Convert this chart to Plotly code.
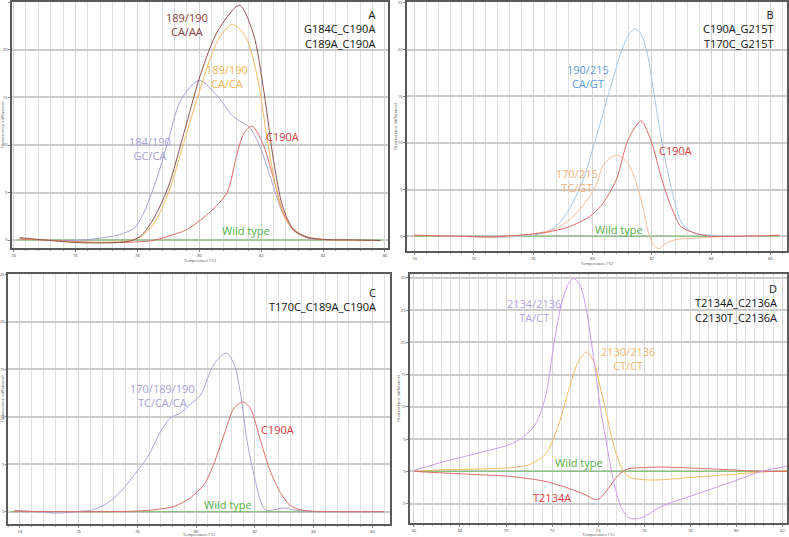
import plotly.graph_objects as go

# ---------------- DATA ----------------
# Panel A
a_wt_x = [74.1, 85.9]
a_wt_y = [0.0, 0.0]
a_c190a_x = [74.2, 75.0, 76.8, 78.4, 79.0, 79.6, 80.3, 80.9, 81.2, 81.44, 81.7, 82.05, 82.4, 82.7, 83.05, 83.5, 84.0, 85.85]
a_c190a_y = [0.1, 0.0, -0.25, -0.1, 0.4, 1.1, 2.8, 5.0, 8.8, 11.2, 12.0, 10.2, 6.5, 3.0, 1.0, 0.25, 0.05, -0.05]
a_gcca_x = [74.2, 75.0, 75.8, 76.3, 76.8, 77.4, 77.9, 78.2, 78.65, 79.0, 79.4, 80.0, 80.6, 81.1, 81.65, 82.0, 82.4, 82.7, 83.05, 83.5, 84.0, 85.85]
a_gcca_y = [0.15, 0.0, -0.05, 0.03, 0.2, 0.55, 1.25, 2.8, 6.7, 10.5, 14.7, 16.8, 15.1, 13.0, 11.75, 9.5, 5.6, 2.8, 1.1, 0.2, 0.03, -0.05]
a_caaa_x = [74.2, 75.0, 76.3, 77.7, 78.1, 78.5, 79.0, 79.5, 80.05, 80.6, 81.3, 81.75, 82.1, 82.4, 82.7, 83.05, 83.5, 84.1, 85.0, 85.85]
a_caaa_y = [0.25, 0.0, -0.3, -0.15, 0.4, 2.1, 5.6, 11.2, 17.5, 22.0, 24.7, 21.7, 15.4, 8.4, 3.5, 1.1, 0.3, 0.05, 0.0, -0.05]
a_caca_x = [74.2, 75.0, 76.3, 77.7, 78.1, 78.55, 79.0, 79.5, 80.05, 80.6, 81.06, 81.5, 81.9, 82.2, 82.5, 82.8, 83.3, 84.0, 85.85]
a_caca_y = [0.2, 0.0, -0.25, -0.1, 0.3, 1.8, 4.9, 10.2, 16.1, 21.0, 22.7, 21.4, 16.8, 10.5, 5.3, 2.1, 0.55, 0.05, -0.05]

# Panel B
b_wt_x = [74.0, 86.3]
b_wt_y = [0.0, 0.0]
b_cagt_x = [74.0, 75.5, 76.7, 77.85, 78.3, 78.75, 79.2, 79.65, 80.1, 80.55, 81.0, 81.25, 81.45, 81.65, 81.85, 82.1, 82.35, 82.7, 83.0, 83.35, 84.0, 85.0, 86.3]
b_cagt_y = [0.1, 0.0, -0.15, 0.1, 0.3, 1.0, 2.8, 5.7, 10.3, 15.3, 20.0, 21.7, 22.2, 21.6, 19.6, 14.8, 10.0, 4.6, 1.5, 0.45, 0.1, 0.0, 0.1]
b_c190a_x = [74.0, 75.5, 76.7, 77.85, 78.5, 79.2, 79.9, 80.3, 80.8, 81.2, 81.64, 82.0, 82.35, 82.7, 83.0, 83.5, 84.0, 85.0, 86.3]
b_c190a_y = [0.1, 0.0, -0.05, 0.2, 0.45, 1.0, 2.1, 3.3, 6.0, 10.3, 12.36, 10.0, 6.0, 2.8, 1.0, 0.3, 0.0, 0.0, 0.1]
b_tcgt_x = [74.0, 75.5, 76.7, 78.1, 78.75, 79.2, 79.65, 80.1, 80.4, 80.83, 81.2, 81.45, 81.7, 81.9, 82.07, 82.24, 82.46, 82.8, 83.25, 83.7, 84.6, 86.3]
b_tcgt_y = [0.1, 0.0, -0.1, 0.3, 0.8, 1.7, 3.15, 5.3, 7.8, 8.7, 7.8, 6.0, 3.15, 0.3, -0.97, -1.33, -0.8, -0.36, -0.25, -0.15, 0.0, 0.1]

# Panel C
c_wt_x = [73.7, 86.4]
c_wt_y = [0.0, 0.0]
c_tccaca_x = [73.8, 74.5, 75.28, 76.07, 76.5, 76.98, 77.43, 77.9, 78.34, 78.8, 79.13, 79.47, 79.8, 80.15, 80.6, 81.03, 81.3, 81.5, 81.74, 81.97, 82.2, 82.36, 82.65, 82.99, 83.3, 83.8, 85.0, 86.4]
c_tccaca_y = [0.15, 0.0, -0.15, 0.03, 0.2, 0.9, 2.1, 3.9, 5.7, 8.5, 9.9, 10.4, 11.3, 12.3, 15.5, 16.74, 15.5, 12.7, 7.4, 3.9, 1.1, 0.14, 0.2, 0.39, 0.2, 0.03, 0.0, 0.0]
c_c190a_x = [73.8, 75.5, 77.66, 78.57, 79.25, 79.8, 80.27, 80.6, 80.95, 81.29, 81.59, 81.85, 82.2, 82.53, 82.87, 83.2, 83.55, 84.1, 85.0, 86.4]
c_c190a_y = [0.05, 0.0, 0.03, 0.2, 0.56, 1.45, 2.85, 5.0, 8.1, 10.9, 11.57, 10.9, 7.4, 4.25, 2.0, 0.67, 0.2, 0.03, 0.0, 0.0]

# Panel D
d_wt_x = [66.0, 82.2]
d_wt_y = [0.0, 0.0]
d_tact_x = [66.0, 67.35, 68.8, 70.1, 70.7, 71.26, 71.7, 72.1, 72.4, 72.7, 72.93, 73.2, 73.5, 73.8, 74.1, 74.4, 74.67, 74.96, 75.25, 75.47, 75.9, 76.77, 78.2, 79.67, 81.1, 82.2]
d_tact_y = [0.15, 1.55, 2.85, 4.1, 5.2, 7.2, 11.4, 20.2, 25.9, 29.0, 29.9, 29.0, 24.8, 17.6, 9.8, 3.6, -1.55, -5.2, -7.0, -7.35, -7.15, -5.4, -3.6, -1.8, 0.0, 0.8]
d_ctct_x = [66.0, 67.35, 68.8, 70.25, 70.97, 71.7, 72.28, 72.7, 73.15, 73.5, 73.8, 74.1, 74.4, 74.67, 74.96, 75.3, 76.05, 76.77, 78.2, 79.67, 81.1, 82.2]
d_ctct_y = [0.0, 0.26, 0.36, 0.6, 1.0, 2.6, 7.2, 12.4, 17.1, 18.5, 17.1, 12.9, 8.3, 4.1, 1.0, -0.8, -1.3, -1.3, -0.9, -0.5, -0.1, 0.1]
d_t2134a_x = [66.0, 67.35, 68.8, 70.25, 71.7, 72.7, 73.43, 73.87, 74.1, 74.45, 74.9, 75.3, 76.05, 76.77, 78.2, 79.67, 81.1, 82.2]
d_t2134a_y = [0.0, -0.26, -0.5, -0.8, -1.55, -2.6, -3.6, -4.4, -4.1, -2.6, -0.5, 0.4, 0.6, 0.67, 0.5, 0.26, 0.0, 0.0]

# Tick values
a_xticks = [74, 76, 78, 80, 82, 84, 86]
d_xticks = [66, 68, 70, 72, 74, 76, 78, 80, 82]
abc_yticks = [0, 5, 10, 15, 20, 25]
d_yticks = [-5, 0, 5, 10, 15, 20, 25, 30]

# ---------------- COLORS ----------------
GREEN = "#7cc46c"
RED = "#e06a6a"
BROWN = "#8e5252"
ORANGE = "#f2bc62"
LAV = "#aaa4d4"
BLUE = "#a6c6e6"
PEACH = "#f4bc9a"
VIOLET = "#cc9df0"

W, H = 789, 537
fig = go.Figure()

def add(x, y, color, ax):
    fig.add_trace(go.Scatter(x=x, y=y, mode="lines",
                             line=dict(color=color, width=1.0, shape="spline", smoothing=0.8),
                             xaxis="x" + ("" if ax == 1 else str(ax)),
                             yaxis="y" + ("" if ax == 1 else str(ax)),
                             showlegend=False, hoverinfo="skip"))

# A
add(a_wt_x, a_wt_y, GREEN, 1)
add(a_gcca_x, a_gcca_y, LAV, 1)
add(a_c190a_x, a_c190a_y, RED, 1)
add(a_caca_x, a_caca_y, ORANGE, 1)
add(a_caaa_x, a_caaa_y, BROWN, 1)
# B
add(b_wt_x, b_wt_y, GREEN, 2)
add(b_cagt_x, b_cagt_y, BLUE, 2)
add(b_tcgt_x, b_tcgt_y, PEACH, 2)
add(b_c190a_x, b_c190a_y, RED, 2)
# C
add(c_wt_x, c_wt_y, GREEN, 3)
add(c_tccaca_x, c_tccaca_y, LAV, 3)
add(c_c190a_x, c_c190a_y, RED, 3)
# D
add(d_wt_x, d_wt_y, GREEN, 4)
add(d_ctct_x, d_ctct_y, ORANGE, 4)
add(d_t2134a_x, d_t2134a_y, RED, 4)
add(d_tact_x, d_tact_y, VIOLET, 4)

def xdom(l, r):
    return [l / W, r / W]

def ydom(t, b):
    return [1 - b / H, 1 - t / H]

def xa(dom, rng, ticks):
    return dict(domain=dom, range=rng, tickvals=ticks, ticktext=[str(t) for t in ticks],
                automargin=False,
                showline=True, linecolor="#5a5a5a", linewidth=1.5, mirror=True,
                ticks="outside", ticklen=2, tickcolor="#888", tickfont=dict(size=4, color="#444"),
                showgrid=True, gridcolor="#d2d2d2", gridwidth=1, zeroline=False,
                minor=dict(dtick=0.4, tick0=ticks[0], showgrid=True, gridcolor="#e0e0e0", gridwidth=1,
                           ticks="outside", ticklen=1, tickcolor="#aaa"),
                title=dict(text="Temperature (°C)", font=dict(size=4, color="#444"), standoff=1))

def ya(dom, rng, ticks, anchor, ticklen=2):
    return dict(domain=dom, range=rng, tickvals=ticks, ticktext=[str(t) for t in ticks],
                automargin=False,
                showline=True, linecolor="#5a5a5a", linewidth=1.5, mirror=True,
                ticks="outside", ticklen=ticklen, tickcolor="#888", tickfont=dict(size=4, color="#444"),
                showgrid=True, gridcolor="#cccccc", gridwidth=1.5, zeroline=False, anchor=anchor,
                title=dict(text="Fluorescence (difference)", font=dict(size=4, color="#444"), standoff=0))

fig.update_layout(
    width=W, height=H, margin=dict(l=0, r=0, t=0, b=0, autoexpand=False),
    paper_bgcolor="white", plot_bgcolor="white",
    font=dict(family="Open Sans"),
    xaxis=dict(xa(xdom(12, 388), [73.95, 86.1], a_xticks), anchor="y"),
    yaxis=ya(ydom(2, 248), [-0.84, 25.05], abc_yticks, "x"),
    xaxis2=dict(xa(xdom(407, 787), [73.75, 86.56], a_xticks), anchor="y2"),
    yaxis2=ya(ydom(2, 251), [-1.58, 25.1], abc_yticks, "x2"),
    xaxis3=dict(xa(xdom(8, 390), [73.6, 86.6], a_xticks), anchor="y3"),
    yaxis3=ya(ydom(274, 524), [-1.3, 25.07], abc_yticks, "x3", ticklen=1),
    xaxis4=dict(xa(xdom(410, 787), [65.83, 82.2], d_xticks), anchor="y4"),
    yaxis4=ya(ydom(274, 523), [-8.0, 30.6], d_yticks, "x4"),
)

FS = 11

def note(ax, x, y, text, color, align="center", xanchor="center"):
    fig.add_annotation(x=x, y=y, text=text, showarrow=False,
                       xref="x" + ("" if ax == 1 else str(ax)),
                       yref="y" + ("" if ax == 1 else str(ax)),
                       font=dict(size=FS, color=color, family="Open Sans"),
                       align=align, xanchor=xanchor, yanchor="middle")

# A labels
note(1, 85.75, 22.2, "A<br>G184C_C190A<br>C189A_C190A", "#111", align="right", xanchor="right")
note(1, 79.6, 22.7, "189/190<br>CA/AA", "#8a3c3c")
note(1, 80.9, 17.2, "189/190<br>CA/CA", "#f0b452")
note(1, 78.4, 9.65, "184/190<br>GC/CA", "#a8a0d8")
note(1, 82.7, 10.9, "C190A", "#e03a3a")
note(1, 81.5, 1.0, "Wild type", "#55b04a")
# B labels
note(2, 86.2, 22.2, "B<br>C190A_G215T<br>T170C_G215T", "#111", align="right", xanchor="right")
note(2, 79.84, 17.1, "190/215<br>CA/GT", "#5a9ee0")
note(2, 82.8, 9.2, "C190A", "#e03a3a")
note(2, 79.48, 6.0, "170/215<br>TC/GT", "#f2b07a")
note(2, 80.9, 0.7, "Wild type", "#55b04a")
# C labels
note(3, 86.2, 22.4, "C<br>T170C_C189A_C190A", "#111", align="right", xanchor="right")
note(3, 78.85, 12.3, "170/189/190<br>TC/CA/CA", "#a8a0d8")
note(3, 82.78, 8.65, "C190A", "#e03a3a")
note(3, 81.1, 0.8, "Wild type", "#55b04a")
# D labels
note(4, 81.85, 26.1, "D<br>T2134A_C2136A<br>C2130T_C2136A", "#111", align="right", xanchor="right")
note(4, 71.2, 24.9, "2134/2136<br>TA/CT", "#b4a4e2")
note(4, 75.3, 17.5, "2130/2136<br>CT/CT", "#f0b870")
note(4, 73.15, 1.45, "Wild type", "#55b04a")
note(4, 72.0, -4.0, "T2134A", "#e03a3a")

fig.write_html("out.html", config={"displayModeBar": False},
               post_script="document.body.style.margin='0';document.body.style.padding='0';"
                           "document.documentElement.style.overflow='hidden';")
